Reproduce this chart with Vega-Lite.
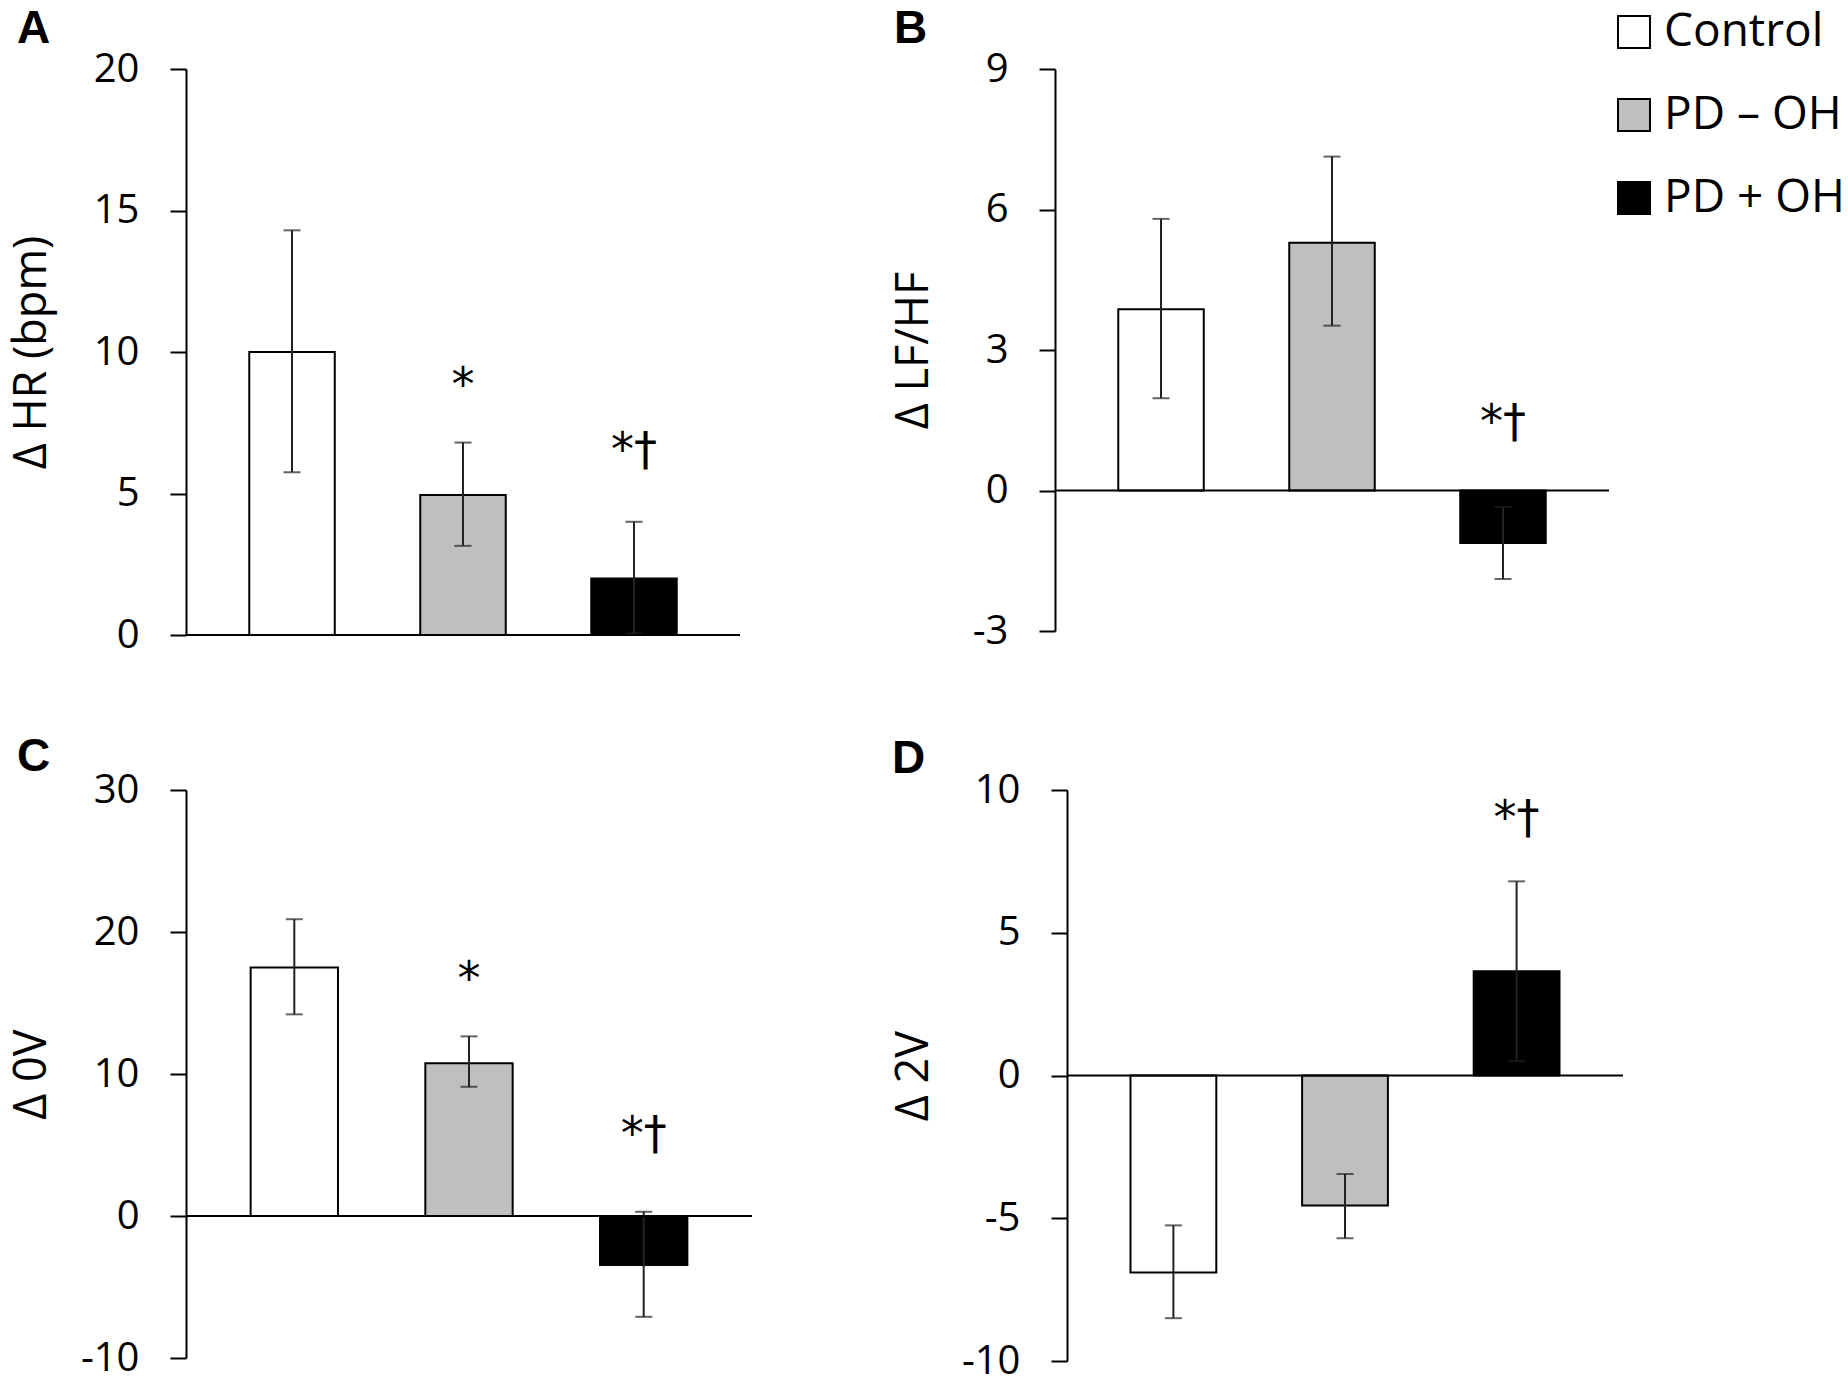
{
  "$schema": "https://vega.github.io/schema/vega-lite/v6.json",
  "padding": {"left": 8, "top": 6, "right": 5, "bottom": 2},
  "background": "white",
  "config": {
    "font": "Open Sans",
    "view": {"stroke": null},
    "axisY": {
      "grid": false,
      "domainColor": "#000",
      "domainWidth": 2,
      "tickColor": "#000",
      "tickWidth": 2,
      "tickSize": 16,
      "labelFontSize": 40,
      "labelColor": "#000",
      "labelPadding": 31,
      "labelExpr": "datum.value < 0 ? '-' + abs(datum.value) : '' + datum.value",
      "titleFontSize": 45,
      "titleFontWeight": "normal",
      "titleColor": "#000"
    },
    "title": {
      "font": "Liberation Sans",
      "fontSize": 46,
      "fontWeight": "bold",
      "anchor": "start",
      "frame": "group",
      "baseline": "alphabetic",
      "color": "#000"
    }
  },
  "datasets": {
    "bars": [
      {"panel": "A", "group": "Control", "mean": 10.0, "lo": 5.75, "hi": 14.3},
      {"panel": "A", "group": "PD – OH", "mean": 4.95, "lo": 3.15, "hi": 6.8},
      {"panel": "A", "group": "PD + OH", "mean": 2.0, "lo": 0.05, "hi": 4.0},
      {"panel": "B", "group": "Control", "mean": 3.87, "lo": 1.97, "hi": 5.8},
      {"panel": "B", "group": "PD – OH", "mean": 5.29, "lo": 3.52, "hi": 7.13},
      {"panel": "B", "group": "PD + OH", "mean": -1.12, "lo": -1.89, "hi": -0.35},
      {"panel": "C", "group": "Control", "mean": 17.5, "lo": 14.2, "hi": 20.9},
      {"panel": "C", "group": "PD – OH", "mean": 10.75, "lo": 9.1, "hi": 12.65},
      {"panel": "C", "group": "PD + OH", "mean": -3.45, "lo": -7.1, "hi": 0.3},
      {"panel": "D", "group": "Control", "mean": -6.9, "lo": -8.5, "hi": -5.25},
      {"panel": "D", "group": "PD – OH", "mean": -4.55, "lo": -5.7, "hi": -3.45},
      {"panel": "D", "group": "PD + OH", "mean": 3.65, "lo": 0.5, "hi": 6.8}
    ],
    "signif": [
      {"panel": "A", "group": "PD – OH", "label": "*", "pos": 8.8},
      {"panel": "A", "group": "PD + OH", "label": "*†", "pos": 6.5},
      {"panel": "B", "group": "PD + OH", "label": "*†", "pos": 1.45},
      {"panel": "C", "group": "PD – OH", "label": "*", "pos": 16.6},
      {"panel": "C", "group": "PD + OH", "label": "*†", "pos": 5.7},
      {"panel": "D", "group": "PD + OH", "label": "*†", "pos": 9.0}
    ]
  },
  "spacing": 79,
  "vconcat": [
    {
      "spacing": 315,
      "bounds": "flush",
      "hconcat": [
        {
          "width": 554,
          "height": 566,
          "title": {"text": "A", "dx": -169, "offset": -4},
          "layer": [
            {
              "data": {"name": "bars"},
              "transform": [{"filter": "datum.panel === 'A'"}],
              "mark": {"type": "bar", "stroke": "#000", "strokeWidth": 2},
              "encoding": {
                "x": {"field": "group", "type": "nominal", "axis": null, "scale": {"domain": ["Control", "PD – OH", "PD + OH"], "paddingInner": 0.5, "paddingOuter": 0.37}},
                "y": {"field": "mean", "type": "quantitative", "stack": null, "title": "Δ HR (bpm)", "scale": {"domain": [0, 20], "nice": false}, "axis": {"values": [0, 5, 10, 15, 20], "titleX": -132}},
                "fill": {"field": "group", "type": "nominal", "scale": {"domain": ["Control", "PD – OH", "PD + OH"], "range": ["#ffffff", "#bfbfbf", "#000000"]},
                  "legend": {"orient": "none", "legendX": 1425, "legendY": -60, "title": null, "symbolType": "square", "symbolSize": 1024, "symbolStrokeColor": "#000", "symbolStrokeWidth": 2, "labelFontSize": 46, "labelColor": "#000", "labelLimit": 0, "labelOffset": 7, "rowPadding": 37, "padding": 0}}
              }
            },
            {
              "data": {"name": "bars"},
              "transform": [{"filter": "datum.panel === 'A'"}],
              "mark": {"type": "rule", "color": "#222", "strokeWidth": 2},
              "encoding": {
                "x": {"field": "group", "type": "nominal"},
                "y": {"field": "lo", "type": "quantitative", "title": "Δ HR (bpm)"},
                "y2": {"field": "hi"}
              }
            },
            {
              "data": {"name": "bars"},
              "transform": [{"filter": "datum.panel === 'A'"}],
              "mark": {"type": "tick", "color": "#222", "size": 17, "thickness": 2},
              "encoding": {
                "x": {"field": "group", "type": "nominal"},
                "y": {"field": "lo", "type": "quantitative", "title": "Δ HR (bpm)"}
              }
            },
            {
              "data": {"name": "bars"},
              "transform": [{"filter": "datum.panel === 'A'"}],
              "mark": {"type": "tick", "color": "#222", "size": 17, "thickness": 2},
              "encoding": {
                "x": {"field": "group", "type": "nominal"},
                "y": {"field": "hi", "type": "quantitative", "title": "Δ HR (bpm)"}
              }
            },
            {
              "data": {"values": [{}]},
              "mark": {"type": "rule", "color": "#000", "strokeWidth": 2},
              "encoding": {"y": {"datum": 0, "type": "quantitative", "title": "Δ HR (bpm)"}}
            },
            {
              "data": {"name": "signif"},
              "transform": [{"filter": "datum.panel === 'A'"}],
              "mark": {"type": "text", "font": "DejaVu Sans", "fontSize": 46, "color": "#000", "baseline": "middle"},
              "encoding": {
                "x": {"field": "group", "type": "nominal"},
                "y": {"field": "pos", "type": "quantitative", "title": "Δ HR (bpm)"},
                "text": {"field": "label"}
              }
            }
          ]
        },
        {
          "width": 554,
          "height": 562,
          "title": {"text": "B", "dx": -161, "offset": -4},
          "layer": [
            {
              "data": {"name": "bars"},
              "transform": [{"filter": "datum.panel === 'B'"}],
              "mark": {"type": "bar", "stroke": "#000", "strokeWidth": 2},
              "encoding": {
                "x": {"field": "group", "type": "nominal", "axis": null, "scale": {"domain": ["Control", "PD – OH", "PD + OH"], "paddingInner": 0.5, "paddingOuter": 0.37}},
                "y": {"field": "mean", "type": "quantitative", "stack": null, "title": "Δ LF/HF", "scale": {"domain": [-3, 9], "nice": false}, "axis": {"values": [-3, 0, 3, 6, 9], "titleX": -119}},
                "fill": {"field": "group", "type": "nominal"}
              }
            },
            {
              "data": {"name": "bars"},
              "transform": [{"filter": "datum.panel === 'B'"}],
              "mark": {"type": "rule", "color": "#222", "strokeWidth": 2},
              "encoding": {
                "x": {"field": "group", "type": "nominal"},
                "y": {"field": "lo", "type": "quantitative", "title": "Δ LF/HF"},
                "y2": {"field": "hi"}
              }
            },
            {
              "data": {"name": "bars"},
              "transform": [{"filter": "datum.panel === 'B'"}],
              "mark": {"type": "tick", "color": "#222", "size": 17, "thickness": 2},
              "encoding": {
                "x": {"field": "group", "type": "nominal"},
                "y": {"field": "lo", "type": "quantitative", "title": "Δ LF/HF"}
              }
            },
            {
              "data": {"name": "bars"},
              "transform": [{"filter": "datum.panel === 'B'"}],
              "mark": {"type": "tick", "color": "#222", "size": 17, "thickness": 2},
              "encoding": {
                "x": {"field": "group", "type": "nominal"},
                "y": {"field": "hi", "type": "quantitative", "title": "Δ LF/HF"}
              }
            },
            {
              "data": {"values": [{}]},
              "mark": {"type": "rule", "color": "#000", "strokeWidth": 2},
              "encoding": {"y": {"datum": 0, "type": "quantitative", "title": "Δ LF/HF"}}
            },
            {
              "data": {"name": "signif"},
              "transform": [{"filter": "datum.panel === 'B'"}],
              "mark": {"type": "text", "font": "DejaVu Sans", "fontSize": 46, "color": "#000", "baseline": "middle"},
              "encoding": {
                "x": {"field": "group", "type": "nominal"},
                "y": {"field": "pos", "type": "quantitative", "title": "Δ LF/HF"},
                "text": {"field": "label"}
              }
            }
          ]
        }
      ]
    },
    {
      "spacing": 315,
      "bounds": "flush",
      "hconcat": [
        {
          "width": 566,
          "height": 568,
          "title": {"text": "C", "dx": -169, "offset": -11},
          "layer": [
            {
              "data": {"name": "bars"},
              "transform": [{"filter": "datum.panel === 'C'"}],
              "mark": {"type": "bar", "stroke": "#000", "strokeWidth": 2},
              "encoding": {
                "x": {"field": "group", "type": "nominal", "axis": null, "scale": {"domain": ["Control", "PD – OH", "PD + OH"], "paddingInner": 0.5, "paddingOuter": 0.37}},
                "y": {"field": "mean", "type": "quantitative", "stack": null, "title": "Δ 0V", "scale": {"domain": [-10, 30], "nice": false}, "axis": {"values": [-10, 0, 10, 20, 30], "titleX": -132}},
                "fill": {"field": "group", "type": "nominal"}
              }
            },
            {
              "data": {"name": "bars"},
              "transform": [{"filter": "datum.panel === 'C'"}],
              "mark": {"type": "rule", "color": "#222", "strokeWidth": 2},
              "encoding": {
                "x": {"field": "group", "type": "nominal"},
                "y": {"field": "lo", "type": "quantitative", "title": "Δ 0V"},
                "y2": {"field": "hi"}
              }
            },
            {
              "data": {"name": "bars"},
              "transform": [{"filter": "datum.panel === 'C'"}],
              "mark": {"type": "tick", "color": "#222", "size": 17, "thickness": 2},
              "encoding": {
                "x": {"field": "group", "type": "nominal"},
                "y": {"field": "lo", "type": "quantitative", "title": "Δ 0V"}
              }
            },
            {
              "data": {"name": "bars"},
              "transform": [{"filter": "datum.panel === 'C'"}],
              "mark": {"type": "tick", "color": "#222", "size": 17, "thickness": 2},
              "encoding": {
                "x": {"field": "group", "type": "nominal"},
                "y": {"field": "hi", "type": "quantitative", "title": "Δ 0V"}
              }
            },
            {
              "data": {"values": [{}]},
              "mark": {"type": "rule", "color": "#000", "strokeWidth": 2},
              "encoding": {"y": {"datum": 0, "type": "quantitative", "title": "Δ 0V"}}
            },
            {
              "data": {"name": "signif"},
              "transform": [{"filter": "datum.panel === 'C'"}],
              "mark": {"type": "text", "font": "DejaVu Sans", "fontSize": 46, "color": "#000", "baseline": "middle"},
              "encoding": {
                "x": {"field": "group", "type": "nominal"},
                "y": {"field": "pos", "type": "quantitative", "title": "Δ 0V"},
                "text": {"field": "label"}
              }
            }
          ]
        },
        {
          "width": 556,
          "height": 571,
          "title": {"text": "D", "dx": -175, "offset": -13},
          "layer": [
            {
              "data": {"name": "bars"},
              "transform": [{"filter": "datum.panel === 'D'"}],
              "mark": {"type": "bar", "stroke": "#000", "strokeWidth": 2},
              "encoding": {
                "x": {"field": "group", "type": "nominal", "axis": null, "scale": {"domain": ["Control", "PD – OH", "PD + OH"], "paddingInner": 0.5, "paddingOuter": 0.37}},
                "y": {"field": "mean", "type": "quantitative", "stack": null, "title": "Δ 2V", "scale": {"domain": [-10, 10], "nice": false}, "axis": {"values": [-10, -5, 0, 5, 10], "titleX": -131}},
                "fill": {"field": "group", "type": "nominal"}
              }
            },
            {
              "data": {"name": "bars"},
              "transform": [{"filter": "datum.panel === 'D'"}],
              "mark": {"type": "rule", "color": "#222", "strokeWidth": 2},
              "encoding": {
                "x": {"field": "group", "type": "nominal"},
                "y": {"field": "lo", "type": "quantitative", "title": "Δ 2V"},
                "y2": {"field": "hi"}
              }
            },
            {
              "data": {"name": "bars"},
              "transform": [{"filter": "datum.panel === 'D'"}],
              "mark": {"type": "tick", "color": "#222", "size": 17, "thickness": 2},
              "encoding": {
                "x": {"field": "group", "type": "nominal"},
                "y": {"field": "lo", "type": "quantitative", "title": "Δ 2V"}
              }
            },
            {
              "data": {"name": "bars"},
              "transform": [{"filter": "datum.panel === 'D'"}],
              "mark": {"type": "tick", "color": "#222", "size": 17, "thickness": 2},
              "encoding": {
                "x": {"field": "group", "type": "nominal"},
                "y": {"field": "hi", "type": "quantitative", "title": "Δ 2V"}
              }
            },
            {
              "data": {"values": [{}]},
              "mark": {"type": "rule", "color": "#000", "strokeWidth": 2},
              "encoding": {"y": {"datum": 0, "type": "quantitative", "title": "Δ 2V"}}
            },
            {
              "data": {"name": "signif"},
              "transform": [{"filter": "datum.panel === 'D'"}],
              "mark": {"type": "text", "font": "DejaVu Sans", "fontSize": 46, "color": "#000", "baseline": "middle"},
              "encoding": {
                "x": {"field": "group", "type": "nominal"},
                "y": {"field": "pos", "type": "quantitative", "title": "Δ 2V"},
                "text": {"field": "label"}
              }
            }
          ]
        }
      ]
    }
  ]
}
